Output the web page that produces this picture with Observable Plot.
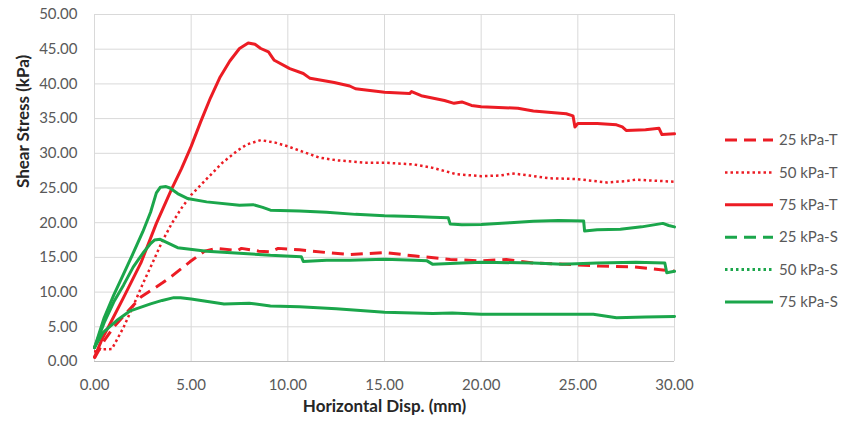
<!DOCTYPE html>
<html>
<head>
<meta charset="utf-8">
<script src="https://cdn.jsdelivr.net/npm/d3@7"></script>
<script src="https://cdn.jsdelivr.net/npm/@observablehq/plot@0.6"></script>
<style>
  html, body { margin: 0; padding: 0; background: #fff; }
  #chart { position: relative; width: 844px; height: 423px; font-family: Lato, "Open Sans", sans-serif; }
  #chart svg { display: block; }
  #legend { position: absolute; left: 0; top: 0; pointer-events: none; }
</style>
</head>
<body>
<div id="chart"></div>
<script>
// Direct shear test: shear stress (kPa) vs horizontal displacement (mm)
// Each series is a list of [displacement, stress] pairs.
const t25 = [[0,0.5],[0.5,3.0],[1.0,5.0],[1.75,7.3],[2.4,9.3],[3.5,11.3],[4.0,12.3],[4.95,14.4],[5.7,15.9],[6.3,16.3],[7.4,16.0],[7.6,16.3],[8.5,15.9],[9.1,15.8],[9.5,16.3],[10.6,16.1],[12.0,15.7],[13.2,15.4],[15.0,15.7],[16.6,15.2],[18.4,14.7],[20.0,14.5],[21.3,14.7],[22.7,14.2],[24.4,14.0],[26.1,13.75],[27.8,13.65],[29.4,13.2],[30.0,13.0]];

const t50 = [[0,0.5],[0.05,1.7],[0.9,1.8],[1.5,4.9],[2.0,8.0],[2.5,11.2],[3.0,14.2],[3.5,17.3],[4.0,19.9],[4.5,22.1],[5.0,24.0],[5.8,26.3],[6.6,28.6],[7.4,30.4],[7.9,31.3],[8.6,31.9],[9.4,31.5],[10.0,31.0],[10.6,30.4],[11.6,29.4],[12.5,29.0],[14.0,28.65],[15.0,28.65],[16.5,28.4],[17.5,27.9],[18.7,27.0],[20.0,26.7],[21.0,26.8],[21.6,27.1],[22.5,26.8],[23.5,26.4],[24.9,26.3],[26.5,25.8],[27.5,26.0],[28.0,26.2],[30.0,25.9]];

const t75 = [[0,0.6],[0.4,3.3],[0.8,5.4],[1.5,9.2],[2.4,14.2],[3.2,19.9],[4.0,24.9],[4.5,27.8],[5.0,31.0],[5.5,34.6],[6.0,38.0],[6.5,41.0],[7.0,43.3],[7.5,45.1],[7.95,45.9],[8.3,45.7],[8.6,45.1],[9.0,44.6],[9.2,43.8],[9.3,43.4],[10.1,42.2],[10.8,41.5],[11.15,40.8],[12.4,40.2],[13.2,39.7],[13.5,39.3],[15.0,38.8],[16.3,38.6],[16.4,38.9],[16.9,38.3],[18.1,37.6],[18.6,37.2],[19.0,37.4],[19.5,36.9],[20.0,36.7],[21.9,36.5],[22.7,36.1],[24.4,35.7],[24.75,35.4],[24.85,33.8],[25.0,34.3],[26.0,34.3],[27.0,34.1],[27.3,33.8],[27.5,33.3],[28.5,33.4],[29.2,33.6],[29.35,32.7],[30.0,32.8]];

const s25 = [[0,2.0],[0.45,4.2],[1.15,5.9],[1.85,7.3],[2.9,8.3],[3.5,8.8],[4.1,9.2],[4.45,9.2],[5.0,9.0],[6.7,8.3],[8.0,8.4],[9.1,8.0],[10.6,7.9],[12.5,7.6],[15.0,7.1],[17.5,6.9],[18.5,7.0],[20.0,6.8],[22.7,6.8],[25.0,6.8],[25.8,6.8],[27.0,6.3],[28.5,6.4],[30.0,6.5]];

const s50 = [[0,2.0],[0.5,5.6],[1.0,8.6],[1.5,11.0],[2.0,13.6],[2.5,15.6],[2.9,17.0],[3.1,17.5],[3.4,17.6],[3.7,17.2],[4.3,16.4],[5.8,15.9],[7.5,15.6],[9.1,15.3],[10.7,15.1],[10.8,14.4],[12.0,14.6],[13.2,14.6],[15.0,14.75],[16.6,14.6],[17.2,14.5],[17.5,14.0],[19.0,14.2],[20.0,14.3],[22.7,14.2],[24.2,14.0],[26.0,14.2],[28.0,14.3],[29.5,14.2],[29.6,12.8],[30.0,13.0]];

const s75 = [[0,2.0],[0.5,6.3],[1.0,9.6],[1.5,12.6],[2.0,15.6],[2.5,18.7],[2.9,21.5],[3.2,24.3],[3.4,25.1],[3.7,25.2],[3.9,25.0],[4.3,24.2],[4.8,23.5],[5.8,23.0],[7.5,22.5],[8.2,22.6],[8.7,22.2],[9.1,21.8],[10.6,21.7],[12.0,21.5],[13.5,21.2],[15.0,21.0],[16.5,20.9],[17.5,20.8],[18.3,20.7],[18.4,19.8],[19.0,19.7],[20.0,19.75],[21.5,20.0],[22.7,20.2],[24.0,20.3],[25.3,20.25],[25.35,18.8],[26.0,19.0],[27.2,19.05],[28.3,19.4],[29.4,19.9],[29.7,19.6],[30.0,19.4]];

const seriesNames = ["25 kPa-T", "50 kPa-T", "75 kPa-T", "25 kPa-S", "50 kPa-S", "75 kPa-S"];
const seriesData = [t25, t50, t75, s25, s50, s75];

const xTicks = [0, 5, 10, 15, 20, 25, 30];
const yTicks = [0, 5, 10, 15, 20, 25, 30, 35, 40, 45, 50];
const xTitle = "Horizontal Disp. (mm)";
const yTitle = "Shear Stress (kPa)";

// Line styles (drawn lines, then legend swatches)
const RED = "#ec1c24";
const GREEN = "#1ba64b";
const DASH = "12,7";
const DOT = "2.5,3";
const lineStyles = [
  {stroke: RED, dash: DASH, width: 3},
  {stroke: RED, dash: DOT, width: 2.5},
  {stroke: RED, dash: null, width: 3},
  {stroke: GREEN, dash: null, width: 3},
  {stroke: GREEN, dash: null, width: 3},
  {stroke: GREEN, dash: null, width: 3}
];
const legendDashes = [DASH, DOT, null, DASH, DOT, null];

const fmt = d3.format(".2f");

const lines = seriesData.map((data, i) =>
  Plot.line(data, {
    x: d => d[0],
    y: d => d[1],
    stroke: lineStyles[i].stroke,
    strokeWidth: lineStyles[i].width,
    strokeDasharray: lineStyles[i].dash ?? undefined,
    strokeLinejoin: "round",
    strokeLinecap: lineStyles[i].dash ? "butt" : "round"
  })
);

const plot = Plot.plot({
  width: 844,
  height: 423,
  marginLeft: 94,
  marginRight: 170,
  marginTop: 14,
  marginBottom: 62,
  style: {fontFamily: "Lato, 'Open Sans', sans-serif", fontSize: "15px", color: "#595959", background: "#fff"},
  x: {domain: [0, 30]},
  y: {domain: [0, 50]},
  marks: [
    Plot.gridX(xTicks, {stroke: "#d9d9d9", strokeOpacity: 1, strokeWidth: 1}),
    Plot.gridY(yTicks, {stroke: "#d9d9d9", strokeOpacity: 1, strokeWidth: 1}),
    Plot.ruleY([0], {stroke: "#bfbfbf", strokeWidth: 1.2}),
    Plot.axisX(xTicks, {tickSize: 0, tickPadding: 18, tickFormat: fmt, label: null}),
    Plot.axisY(yTicks, {tickSize: 0, tickPadding: 17, tickFormat: fmt, label: null}),
    Plot.text([xTitle], {frameAnchor: "bottom", dy: 50, fill: "#262626", fontWeight: "bold", fontSize: 17}),
    Plot.text([yTitle], {frameAnchor: "left", dx: -71, rotate: -90, fill: "#262626", fontWeight: "bold", fontSize: 17}),
    ...lines
  ]
});

const chart = document.getElementById("chart");
chart.appendChild(plot);

// Legend to the right of the plot area
const legend = d3.select(chart).append("svg")
  .attr("id", "legend")
  .attr("width", 844)
  .attr("height", 423);

const rowTop = 140, rowStep = 32.4, lineX0 = 725, lineX1 = 773, textX = 779;
seriesNames.forEach((name, i) => {
  const y = rowTop + i * rowStep;
  legend.append("line")
    .attr("x1", lineX0).attr("x2", lineX1)
    .attr("y1", y).attr("y2", y)
    .attr("stroke", lineStyles[i].stroke)
    .attr("stroke-width", lineStyles[i].width)
    .attr("stroke-dasharray", legendDashes[i] ?? null);
  legend.append("text")
    .attr("x", textX).attr("y", y)
    .attr("dy", "0.35em")
    .attr("fill", "#595959")
    .attr("font-family", "Lato, 'Open Sans', sans-serif")
    .attr("font-size", 15)
    .text(name);
});
</script>
</body>
</html>
